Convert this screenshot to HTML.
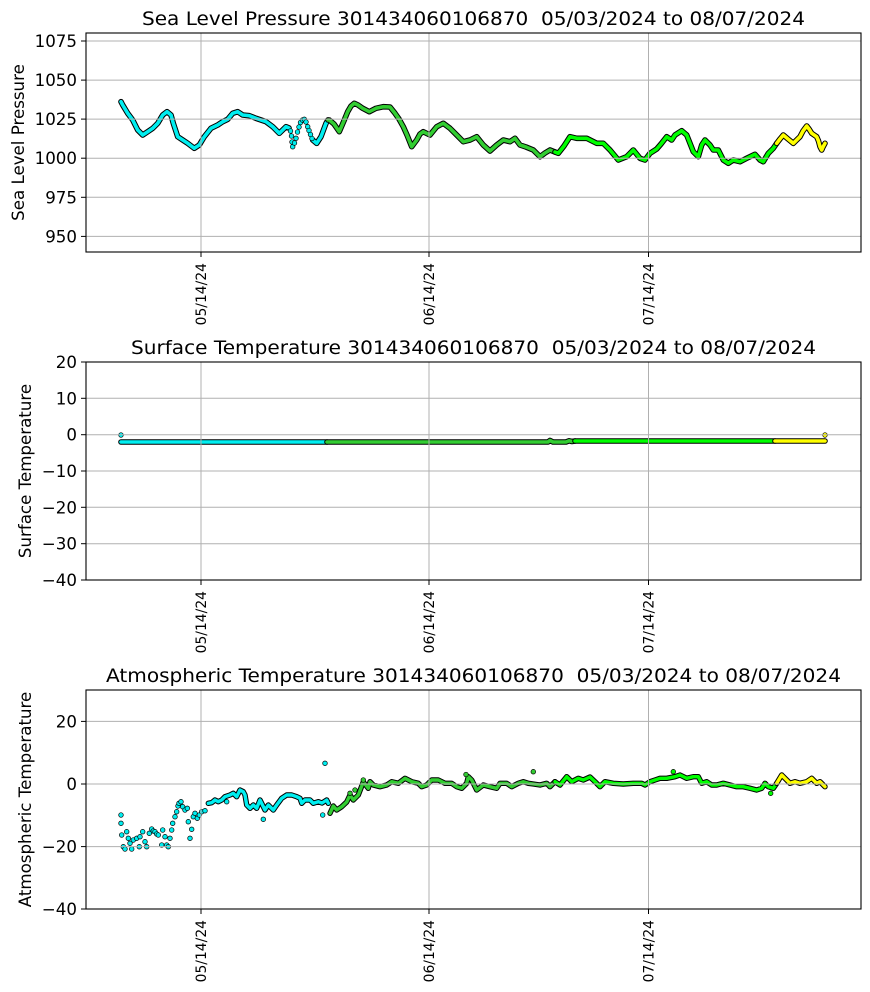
<!DOCTYPE html>
<html><head><meta charset="utf-8"><style>
html,body{margin:0;padding:0;background:#fff;}
svg{display:block;}
text{font-family:"DejaVu Sans","Liberation Sans",sans-serif;fill:#000;}
</style></head><body>
<svg width="870" height="992" viewBox="0 0 870 992" xmlns="http://www.w3.org/2000/svg">
<rect width="870" height="992" fill="#fff"/>

<!-- ================= PLOT 1 ================= -->
<g fill="none" stroke-linejoin="round" stroke-linecap="round">
<polyline stroke="#000" stroke-width="5.6" points="121,101.7 122.7,105 127.7,113.3 132.7,120 137.7,130 142.7,135 147.7,131.7 152.7,128.3 157.7,123.3 162.7,115 167,111.7 171,115 173.3,123.3 177.7,136.7 182.7,140 187.7,143.3 194.3,148.3 199.3,145 204.3,136.7 211,128.3 217.7,125 222.7,121.7 227.7,119.3 232.7,113.3 237.7,111.7 242.7,115 249.3,115.7 256,118.3 266,121.7 272.7,126.7 279.3,133.3 286,126.7 289,128"/>
<polyline stroke="#00eef0" stroke-width="3.6" points="121,101.7 122.7,105 127.7,113.3 132.7,120 137.7,130 142.7,135 147.7,131.7 152.7,128.3 157.7,123.3 162.7,115 167,111.7 171,115 173.3,123.3 177.7,136.7 182.7,140 187.7,143.3 194.3,148.3 199.3,145 204.3,136.7 211,128.3 217.7,125 222.7,121.7 227.7,119.3 232.7,113.3 237.7,111.7 242.7,115 249.3,115.7 256,118.3 266,121.7 272.7,126.7 279.3,133.3 286,126.7 289,128"/>
<polyline stroke="#000" stroke-width="5.6" points="312.7,140 316.7,143.3 321,136.7 326,123.3 328,120"/>
<polyline stroke="#00eef0" stroke-width="3.6" points="312.7,140 316.7,143.3 321,136.7 326,123.3 328,120"/>
</g>
<g fill="#00eef0" stroke="#000" stroke-width="0.7">
<circle cx="290.5" cy="131" r="2.3"/><circle cx="291.5" cy="136" r="2.3"/><circle cx="292" cy="142" r="2.3"/><circle cx="292.7" cy="146.7" r="2.3"/><circle cx="294.5" cy="143" r="2.3"/><circle cx="296" cy="138.3" r="2.3"/><circle cx="297.5" cy="132" r="2.3"/><circle cx="299" cy="127" r="2.3"/><circle cx="300.5" cy="122.5" r="2.3"/><circle cx="302.5" cy="120" r="2.3"/><circle cx="304.3" cy="119.3" r="2.3"/><circle cx="306" cy="122" r="2.3"/><circle cx="307.7" cy="126.7" r="2.3"/><circle cx="309" cy="130.5" r="2.3"/><circle cx="310.5" cy="134.5" r="2.3"/><circle cx="312" cy="138.5" r="2.3"/>
</g>
<g fill="none" stroke-linejoin="round" stroke-linecap="round">
<polyline stroke="#000" stroke-width="5.6" points="328,120 329.3,120 334,124 339.3,131.7 344.3,120 347.7,111.7 351,106 354.3,103.3 358,105 362.7,108.3 369.3,111.7 376,108.3 383.3,106.7 390,107 395,113.3 399,119 403.3,126.7 407,135 411.7,146.7 416.7,140 420,134 423.3,131.7 430,135 436.7,126.7 443.3,123.3 450,128.3 456.7,135 463.3,141.7 470,140 476.7,136.7 483.3,145 490,151 496.7,145 503.3,140 510,141.7 515,138.3 520,145 526,147 533.3,150 540,156.7 545,153 550,150 555,152"/>
<polyline stroke="#32cd32" stroke-width="3.6" points="328,120 329.3,120 334,124 339.3,131.7 344.3,120 347.7,111.7 351,106 354.3,103.3 358,105 362.7,108.3 369.3,111.7 376,108.3 383.3,106.7 390,107 395,113.3 399,119 403.3,126.7 407,135 411.7,146.7 416.7,140 420,134 423.3,131.7 430,135 436.7,126.7 443.3,123.3 450,128.3 456.7,135 463.3,141.7 470,140 476.7,136.7 483.3,145 490,151 496.7,145 503.3,140 510,141.7 515,138.3 520,145 526,147 533.3,150 540,156.7 545,153 550,150 555,152"/>
<polyline stroke="#000" stroke-width="5.6" points="555,152 558.3,153.3 564,146 570,136.7 576.7,138.3 586.7,138.3 596.7,143.3 603.3,143.3 610,150 618.3,160 626.7,156.7 633.3,150 640,158.3 645,160 650,153.3 656.7,149 661,144 666.7,136.7 671.7,140 675,135 681.7,130.7 686.7,135 690,143.3 693.3,151.7 698.3,156.7 701.7,145 705,140 710,145 713.3,150 718.3,150 723.3,160 728.3,163.3 733.3,160 740,161.7 746.7,158.3 755,154.3 760,160 763.3,161.7 768.3,153.3 773.3,148.3 776.7,143.3"/>
<polyline stroke="#00ff00" stroke-width="3.6" points="555,152 558.3,153.3 564,146 570,136.7 576.7,138.3 586.7,138.3 596.7,143.3 603.3,143.3 610,150 618.3,160 626.7,156.7 633.3,150 640,158.3 645,160 650,153.3 656.7,149 661,144 666.7,136.7 671.7,140 675,135 681.7,130.7 686.7,135 690,143.3 693.3,151.7 698.3,156.7 701.7,145 705,140 710,145 713.3,150 718.3,150 723.3,160 728.3,163.3 733.3,160 740,161.7 746.7,158.3 755,154.3 760,160 763.3,161.7 768.3,153.3 773.3,148.3 776.7,143.3"/>
<polyline stroke="#000" stroke-width="5.6" points="776.7,143.3 780,139 783.3,135 788,139 793.3,143.3 800,136.7 803,131 806.7,126 809,129 811.7,133.3 816.7,136.7 818.5,141 820,146.7 821.7,150 823,147 825,143.3"/>
<polyline stroke="#ffff00" stroke-width="3.6" points="776.7,143.3 780,139 783.3,135 788,139 793.3,143.3 800,136.7 803,131 806.7,126 809,129 811.7,133.3 816.7,136.7 818.5,141 820,146.7 821.7,150 823,147 825,143.3"/>
</g>

<!-- grid plot 1 -->
<g stroke="#b0b0b0" stroke-width="1">
<line x1="201" y1="33" x2="201" y2="252"/><line x1="429" y1="33" x2="429" y2="252"/><line x1="648.5" y1="33" x2="648.5" y2="252"/>
<line x1="86" y1="236.4" x2="861" y2="236.4"/><line x1="86" y1="197.3" x2="861" y2="197.3"/><line x1="86" y1="158.2" x2="861" y2="158.2"/><line x1="86" y1="119.1" x2="861" y2="119.1"/><line x1="86" y1="80.1" x2="861" y2="80.1"/><line x1="86" y1="41" x2="861" y2="41"/>
</g>
<rect x="86" y="33" width="775" height="219" fill="none" stroke="#000" stroke-width="1.1"/>
<g stroke="#000" stroke-width="1">
<line x1="81" y1="236.4" x2="86" y2="236.4"/><line x1="81" y1="197.3" x2="86" y2="197.3"/><line x1="81" y1="158.2" x2="86" y2="158.2"/><line x1="81" y1="119.1" x2="86" y2="119.1"/><line x1="81" y1="80.1" x2="86" y2="80.1"/><line x1="81" y1="41" x2="86" y2="41"/>
<line x1="201" y1="252" x2="201" y2="257"/><line x1="429" y1="252" x2="429" y2="257"/><line x1="648.5" y1="252" x2="648.5" y2="257"/>
</g>
<g font-size="16.67" text-anchor="end">
<text x="77" y="242.4">950</text><text x="77" y="203.3">975</text><text x="77" y="164.2">1000</text><text x="77" y="125.1">1025</text><text x="77" y="86.1">1050</text><text x="77" y="47">1075</text>
</g>
<g font-size="13.9" text-anchor="end">
<text transform="translate(206,263) rotate(-90)">05/14/24</text>
<text transform="translate(434,263) rotate(-90)">06/14/24</text>
<text transform="translate(653.5,263) rotate(-90)">07/14/24</text>
</g>
<text x="473.5" y="25" font-size="19" text-anchor="middle" textLength="663" lengthAdjust="spacingAndGlyphs">Sea Level Pressure 301434060106870 &#160;05/03/2024 to 08/07/2024</text>
<text transform="translate(24,142.5) rotate(-90)" font-size="16.67" text-anchor="middle">Sea Level Pressure</text>

<!-- ================= PLOT 2 ================= -->
<g fill="none" stroke-linejoin="round" stroke-linecap="round">
<polyline stroke="#000" stroke-width="5.6" points="121,442 327,442"/>
<polyline stroke="#00eef0" stroke-width="3.6" points="121,442 327,442"/>
<polyline stroke="#000" stroke-width="5.6" points="327,442 548,442 550,440.5 553,442 566,442 569,440.8 572,441.5 575,441"/>
<polyline stroke="#32cd32" stroke-width="3.6" points="327,442 548,442 550,440.5 553,442 566,442 569,440.8 572,441.5 575,441"/>
<polyline stroke="#000" stroke-width="5.6" points="575,441 775,441"/>
<polyline stroke="#00ff00" stroke-width="3.6" points="575,441 775,441"/>
<polyline stroke="#000" stroke-width="5.6" points="775,441 825,441"/>
<polyline stroke="#ffff00" stroke-width="3.6" points="775,441 825,441"/>
</g>
<circle cx="121" cy="435" r="2.3" fill="#00eef0" stroke="#000" stroke-width="0.7"/>
<circle cx="825" cy="435" r="2.3" fill="#ffff00" stroke="#000" stroke-width="0.7"/>
<g stroke="#b0b0b0" stroke-width="1">
<line x1="201" y1="362" x2="201" y2="580"/><line x1="429" y1="362" x2="429" y2="580"/><line x1="648.5" y1="362" x2="648.5" y2="580"/>
<line x1="86" y1="398.3" x2="861" y2="398.3"/><line x1="86" y1="434.7" x2="861" y2="434.7"/><line x1="86" y1="471" x2="861" y2="471"/><line x1="86" y1="507.3" x2="861" y2="507.3"/><line x1="86" y1="543.7" x2="861" y2="543.7"/>
</g>
<rect x="86" y="362" width="775" height="218" fill="none" stroke="#000" stroke-width="1.1"/>
<g stroke="#000" stroke-width="1">
<line x1="81" y1="362" x2="86" y2="362"/><line x1="81" y1="398.3" x2="86" y2="398.3"/><line x1="81" y1="434.7" x2="86" y2="434.7"/><line x1="81" y1="471" x2="86" y2="471"/><line x1="81" y1="507.3" x2="86" y2="507.3"/><line x1="81" y1="543.7" x2="86" y2="543.7"/><line x1="81" y1="580" x2="86" y2="580"/>
<line x1="201" y1="580" x2="201" y2="585"/><line x1="429" y1="580" x2="429" y2="585"/><line x1="648.5" y1="580" x2="648.5" y2="585"/>
</g>
<g font-size="16.67" text-anchor="end">
<text x="77" y="368">20</text><text x="77" y="404.3">10</text><text x="77" y="440.7">0</text><text x="77" y="477">−10</text><text x="77" y="513.3">−20</text><text x="77" y="549.7">−30</text><text x="77" y="586">−40</text>
</g>
<g font-size="13.9" text-anchor="end">
<text transform="translate(206,591) rotate(-90)">05/14/24</text>
<text transform="translate(434,591) rotate(-90)">06/14/24</text>
<text transform="translate(653.5,591) rotate(-90)">07/14/24</text>
</g>
<text x="473.5" y="354" font-size="19" text-anchor="middle" textLength="685" lengthAdjust="spacingAndGlyphs">Surface Temperature 301434060106870 &#160;05/03/2024 to 08/07/2024</text>
<text transform="translate(31,471) rotate(-90)" font-size="16.67" text-anchor="middle">Surface Temperature</text>

<!-- ================= PLOT 3 ================= -->
<g fill="#00eef0" stroke="#000" stroke-width="0.7">
<circle cx="121" cy="815" r="2.3"/><circle cx="121" cy="823.3" r="2.3"/><circle cx="121.7" cy="835" r="2.3"/><circle cx="123.3" cy="846.7" r="2.3"/><circle cx="125" cy="849" r="2.3"/><circle cx="126.7" cy="831.7" r="2.3"/><circle cx="128.3" cy="838.3" r="2.3"/><circle cx="130" cy="843.3" r="2.3"/><circle cx="131.7" cy="849" r="2.3"/><circle cx="133.3" cy="840" r="2.3"/><circle cx="136.7" cy="838.3" r="2.3"/><circle cx="139.3" cy="846.7" r="2.3"/><circle cx="140" cy="836.7" r="2.3"/><circle cx="142.7" cy="831.7" r="2.3"/><circle cx="145" cy="841.7" r="2.3"/><circle cx="146.7" cy="846.7" r="2.3"/><circle cx="149.3" cy="833.3" r="2.3"/><circle cx="151.7" cy="829" r="2.3"/><circle cx="153.3" cy="831" r="2.3"/><circle cx="155" cy="831.7" r="2.3"/><circle cx="156.7" cy="834" r="2.3"/><circle cx="158.3" cy="835" r="2.3"/><circle cx="161.7" cy="845" r="2.3"/><circle cx="162.7" cy="830" r="2.3"/><circle cx="165" cy="836.7" r="2.3"/><circle cx="166.7" cy="845" r="2.3"/><circle cx="168.3" cy="846.7" r="2.3"/><circle cx="170" cy="838.3" r="2.3"/><circle cx="171.7" cy="830" r="2.3"/><circle cx="172.7" cy="823.3" r="2.3"/><circle cx="175" cy="816.7" r="2.3"/><circle cx="176.7" cy="811.7" r="2.3"/><circle cx="178" cy="806" r="2.3"/><circle cx="179" cy="803.3" r="2.3"/><circle cx="181" cy="801.7" r="2.3"/><circle cx="182.7" cy="806.7" r="2.3"/><circle cx="185" cy="810" r="2.3"/><circle cx="187.3" cy="808.3" r="2.3"/><circle cx="188.3" cy="821.7" r="2.3"/><circle cx="190" cy="838.3" r="2.3"/><circle cx="191.7" cy="829.3" r="2.3"/><circle cx="193.3" cy="816.7" r="2.3"/><circle cx="195" cy="813.3" r="2.3"/><circle cx="197.3" cy="818.3" r="2.3"/><circle cx="199.3" cy="815" r="2.3"/><circle cx="201.7" cy="811.7" r="2.3"/><circle cx="205" cy="810.7" r="2.3"/>
<circle cx="263.3" cy="819.3" r="2.3"/><circle cx="322.7" cy="815" r="2.3"/><circle cx="325" cy="763.3" r="2.3"/><circle cx="226.7" cy="801.7" r="2.3"/>
</g>
<g fill="none" stroke-linejoin="round" stroke-linecap="round">
<polyline stroke="#000" stroke-width="5.4" points="208.3,803.3 211.7,802.7 215,800 218.3,801.7 221.7,800 225,796.7 230,795 233.3,793.3 236.7,796.7 240,790 243.3,791.7 245,795 246.7,805 250,808.3 253.3,805 256.7,808.3 260,800 265,810 268.3,805 273.3,810 276.7,805 281.7,798.3 286.7,795 291.7,795 296.7,796.7 300,798.3 301.7,803.3 305,800 310,800 313.3,803.3 318.3,801.7 322,803 326.7,800 328.3,803.3"/>
<polyline stroke="#00eef0" stroke-width="3.4" points="208.3,803.3 211.7,802.7 215,800 218.3,801.7 221.7,800 225,796.7 230,795 233.3,793.3 236.7,796.7 240,790 243.3,791.7 245,795 246.7,805 250,808.3 253.3,805 256.7,808.3 260,800 265,810 268.3,805 273.3,810 276.7,805 281.7,798.3 286.7,795 291.7,795 296.7,796.7 300,798.3 301.7,803.3 305,800 310,800 313.3,803.3 318.3,801.7 322,803 326.7,800 328.3,803.3"/>
<polyline stroke="#000" stroke-width="5.4" points="330,813.3 333.3,806 336.7,810 341.7,806.7 346.7,802 350,795 353.3,800 358.3,795 363.3,782 368.3,788.3 370,781.7 373.3,785 380,786.7 386.7,785 391.7,781.7 398.3,783.3 405,778.3 411.7,781.7 418.3,783.3 421.7,786.7 426.7,785 431.7,780 438.3,780 445,783.3 451.7,783.3 456.7,786.7 461.7,788.3 466.7,783.3 468.3,776.7 471.7,780 476.7,790 483.3,785 490,786.7 496.7,788.3 500,783.3 506.7,783.3 511.7,786.7 518.3,783.3 523.3,781.7 528.3,783.3 533.3,784 540,785 546.7,783.3 550,786.7 555,781.7"/>
<polyline stroke="#32cd32" stroke-width="3.4" points="330,813.3 333.3,806 336.7,810 341.7,806.7 346.7,802 350,795 353.3,800 358.3,795 363.3,782 368.3,788.3 370,781.7 373.3,785 380,786.7 386.7,785 391.7,781.7 398.3,783.3 405,778.3 411.7,781.7 418.3,783.3 421.7,786.7 426.7,785 431.7,780 438.3,780 445,783.3 451.7,783.3 456.7,786.7 461.7,788.3 466.7,783.3 468.3,776.7 471.7,780 476.7,790 483.3,785 490,786.7 496.7,788.3 500,783.3 506.7,783.3 511.7,786.7 518.3,783.3 523.3,781.7 528.3,783.3 533.3,784 540,785 546.7,783.3 550,786.7 555,781.7"/>
<polyline stroke="#000" stroke-width="5.4" points="555,781.7 560,785 566.7,776.7 571.7,781.7 578.3,778.3 583.3,780 590,777 595,781.7 600,786.7 605,781.7 613.3,783.3 623.3,784 633.3,783.3 641.7,783.3 645,785 650,781.7 655,780 660,778.3 666.7,778.3 675,776.7 680,775 686.7,778.3 693.3,776.7 698.3,776.7 701.7,783.3 706.7,781.7 711.7,785 716.7,785 723.3,783.3 730,785 736.7,786.7 743.3,786.7 750,788.3 756.7,790 761.7,788.3 765,783.3 768.3,786.7 773.3,788.3 776.7,783.3"/>
<polyline stroke="#00ff00" stroke-width="3.4" points="555,781.7 560,785 566.7,776.7 571.7,781.7 578.3,778.3 583.3,780 590,777 595,781.7 600,786.7 605,781.7 613.3,783.3 623.3,784 633.3,783.3 641.7,783.3 645,785 650,781.7 655,780 660,778.3 666.7,778.3 675,776.7 680,775 686.7,778.3 693.3,776.7 698.3,776.7 701.7,783.3 706.7,781.7 711.7,785 716.7,785 723.3,783.3 730,785 736.7,786.7 743.3,786.7 750,788.3 756.7,790 761.7,788.3 765,783.3 768.3,786.7 773.3,788.3 776.7,783.3"/>
<polyline stroke="#000" stroke-width="5.4" points="776.7,783.3 781.7,775 785,778.3 790,783.3 795,781.7 800,783.3 806.7,781.7 811.7,778.3 816.7,783.3 820,781.7 825,786.7"/>
<polyline stroke="#ffff00" stroke-width="3.4" points="776.7,783.3 781.7,775 785,778.3 790,783.3 795,781.7 800,783.3 806.7,781.7 811.7,778.3 816.7,783.3 820,781.7 825,786.7"/>
</g>
<g stroke="#000" stroke-width="0.7">
<circle cx="350" cy="793.3" r="2.3" fill="#32cd32"/><circle cx="355" cy="790" r="2.3" fill="#32cd32"/><circle cx="363.3" cy="780" r="2.3" fill="#32cd32"/><circle cx="533.3" cy="771.7" r="2.3" fill="#32cd32"/><circle cx="466" cy="774.5" r="2.3" fill="#32cd32"/>
<circle cx="673.3" cy="771.7" r="2.3" fill="#00ff00"/><circle cx="770.7" cy="793.3" r="2.3" fill="#00ff00"/>
</g>
<g stroke="#b0b0b0" stroke-width="1">
<line x1="201" y1="690" x2="201" y2="909"/><line x1="429" y1="690" x2="429" y2="909"/><line x1="648.5" y1="690" x2="648.5" y2="909"/>
<line x1="86" y1="721.4" x2="861" y2="721.4"/><line x1="86" y1="784" x2="861" y2="784"/><line x1="86" y1="846.6" x2="861" y2="846.6"/>
</g>
<rect x="86" y="690" width="775" height="219" fill="none" stroke="#000" stroke-width="1.1"/>
<g stroke="#000" stroke-width="1">
<line x1="81" y1="721.4" x2="86" y2="721.4"/><line x1="81" y1="784" x2="86" y2="784"/><line x1="81" y1="846.6" x2="86" y2="846.6"/><line x1="81" y1="909" x2="86" y2="909"/>
<line x1="201" y1="909" x2="201" y2="914"/><line x1="429" y1="909" x2="429" y2="914"/><line x1="648.5" y1="909" x2="648.5" y2="914"/>
</g>
<g font-size="16.67" text-anchor="end">
<text x="77" y="727.4">20</text><text x="77" y="790">0</text><text x="77" y="852.6">−20</text><text x="77" y="915">−40</text>
</g>
<g font-size="13.9" text-anchor="end">
<text transform="translate(206,920) rotate(-90)">05/14/24</text>
<text transform="translate(434,920) rotate(-90)">06/14/24</text>
<text transform="translate(653.5,920) rotate(-90)">07/14/24</text>
</g>
<text x="473.5" y="682" font-size="19" text-anchor="middle" textLength="735" lengthAdjust="spacingAndGlyphs">Atmospheric Temperature 301434060106870 &#160;05/03/2024 to 08/07/2024</text>
<text transform="translate(31,799.5) rotate(-90)" font-size="16.67" text-anchor="middle">Atmospheric Temperature</text>
</svg>
</body></html>
